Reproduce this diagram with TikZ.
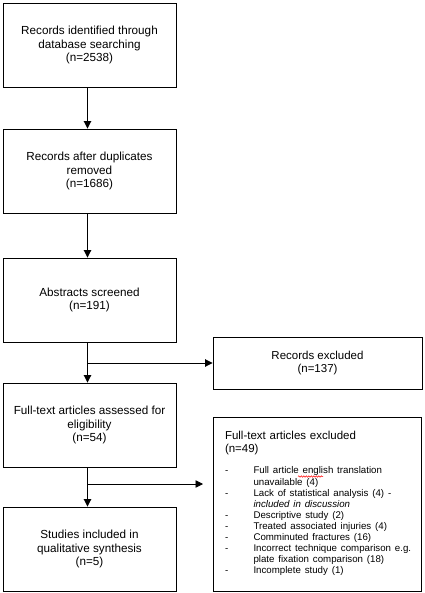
\documentclass[tikz,border=0pt]{standalone}
\usepackage{fontspec}
\setmainfont{Liberation Sans}
\usetikzlibrary{arrows.meta,decorations.pathmorphing}
\begin{document}
\begin{tikzpicture}[x=1pt,y=-1pt,
  box/.style={draw,line width=0.9pt,minimum width=173pt,minimum height=84pt,
    align=center,inner sep=0pt,font=\fontsize{11.7}{13.6}\selectfont},
  exbox/.style={draw,line width=0.9pt,inner sep=0pt,align=center,
    font=\fontsize{11.5}{13.6}\selectfont},
  arr/.style={line width=0.9pt,-{Triangle[width=7.5pt,length=7.5pt]}},
  spell/.style={draw=red,line width=0.5pt,decorate,
    decoration={snake,amplitude=0.7pt,segment length=2.5pt}}]
\useasboundingbox (0,0) rectangle (424,593);
\node[box] (b1) at (89.5,45) {Records identified through\\database searching\\(n=2538)};
\node[box] (b2) at (89.5,171) {Records after duplicates\\removed\\(n=1686)};
\node[box] (b3) at (89.5,300) {Abstracts screened\\(n=191)};
\node[box] (b4) at (89.5,425) {Full-text articles assessed for\\eligibility\\(n=54)};
\node[box] (b5) at (89.5,549) {Studies included in\\qualitative synthesis\\(n=5)};
\node[exbox,minimum width=209pt,minimum height=52pt] (e1) at (317.5,363) {Records excluded\\(n=137)};
\node[exbox,minimum width=208pt,minimum height=174pt,text width=184pt,align=left] (e2) at (317,504)
 {Full-text articles excluded\\(n=49)\\[10pt]
  {\fontsize{9.7}{11.1}\selectfont
  \begin{tabular}{@{}p{28.5pt}@{}l@{}}
  - & Full article english translation\\
    & unavailable (4)\\
  - & Lack of statistical analysis (4) -\\
    & \textit{included in discussion}\\
  - & Descriptive study (2)\\
  - & Treated associated injuries (4)\\
  - & Comminuted fractures (16)\\
  - & Incorrect technique comparison e.g.\\
    & plate fixation comparison (18)\\
  - & Incomplete study (1)
  \end{tabular}}};
\draw[spell] (298,476.5) -- (323,476.5);
\draw[arr] ([xshift=-2pt]b1.south) -- ([xshift=-2pt]b2.north);
\draw[arr] ([xshift=-2pt]b2.south) -- ([xshift=-2pt]b3.north);
\draw[arr] ([xshift=-2pt]b3.south) -- ([xshift=-2pt]b4.north);
\draw[arr] ([xshift=-2pt]b3.south |- e1.west) -- (e1.west);
\draw[arr] ([xshift=-2pt]b4.south) -- ([xshift=-2pt]b5.north);
\coordinate (t2) at (203,484);
\draw[arr] ([xshift=-2pt]b4.south |- t2) -- (t2);
\end{tikzpicture}
\end{document}
